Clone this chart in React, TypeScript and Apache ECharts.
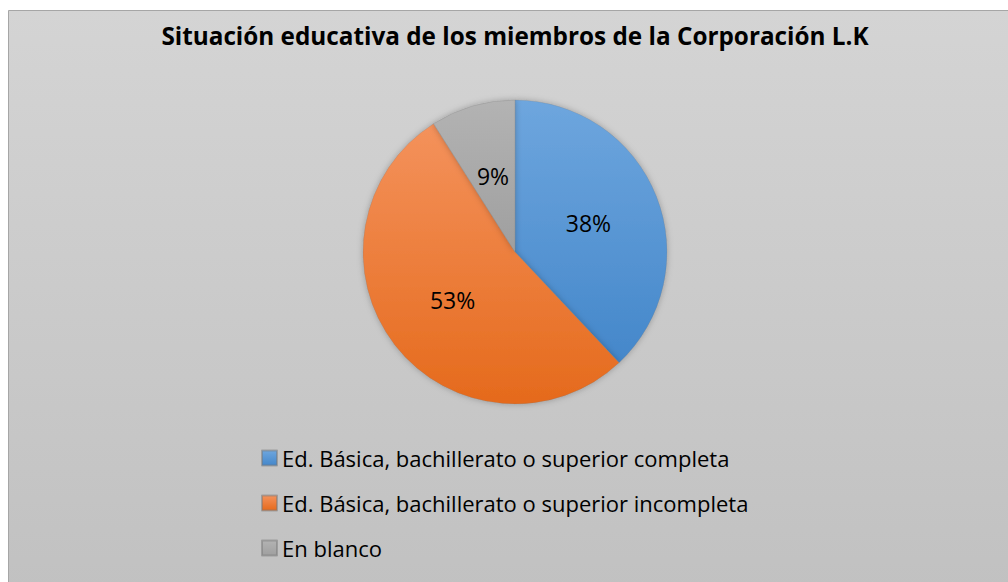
import React, { useEffect, useRef } from "react";
import * as echarts from "echarts";

const titleText = "Situación educativa de los miembros de la Corporación L.K";
const categories = [
  "Ed. Básica, bachillerato o superior completa",
  "Ed. Básica, bachillerato o superior incompleta",
  "En blanco",
];
const values = [38, 53, 9];
const topColors = ["#6ea6de", "#f4925c", "#b3b3b3"];
const bottomColors = ["#4487ca", "#e56a1c", "#9f9f9f"];

const FONT = "'Open Sans', sans-serif";

export default function App() {
  const ref = useRef<HTMLDivElement>(null);
  useEffect(() => {
    const chart = echarts.init(ref.current!, undefined, { renderer: "svg" });
    const grad = (a: string, b: string) =>
      new echarts.graphic.LinearGradient(0, 0, 0, 1, [
        { offset: 0, color: a },
        { offset: 1, color: b },
      ]);
    chart.setOption({
      animation: false,
      backgroundColor: "#ffffff",
      graphic: [
        {
          type: "rect",
          z: -10,
          silent: true,
          shape: { x: 8.5, y: 10.5, width: 1010, height: 580 },
          style: {
            fill: grad("#d4d4d4", "#c1c1c1"),
            stroke: "#a6a6a6",
            lineWidth: 1,
          },
        },
      ],
      title: {
        text: titleText,
        left: 515,
        textAlign: "center",
        top: 22,
        padding: 0,
        textStyle: {
          fontFamily: FONT,
          fontWeight: "bold",
          fontSize: 24.3,
          lineHeight: 26,
          color: "#000000",
        },
      },
      legend: {
        orient: "vertical",
        left: 261,
        top: 447,
        padding: 0,
        itemWidth: 15,
        itemHeight: 15,
        itemGap: 23,
        icon: "rect",
        textStyle: {
          fontFamily: FONT,
          fontSize: 22,
          lineHeight: 22,
          color: "#000000",
        },
        data: categories,
      },
      series: [
        {
          type: "pie",
          center: [515, 252],
          radius: 152,
          startAngle: 90,
          clockwise: true,
          label: {
            show: true,
            position: "inside",
            formatter: "{d}%",
            fontFamily: FONT,
            fontSize: 23,
            color: "#000000",
          },
          labelLine: { show: false },
          itemStyle: {
            shadowBlur: 6,
            shadowColor: "rgba(0,0,0,0.25)",
            borderWidth: 0.5,
            borderColor: "rgba(120,120,120,0.5)",
          },
          emphasis: { disabled: true },
          data: categories.map((name, i) => ({
            name,
            value: values[i],
            itemStyle: { color: grad(topColors[i], bottomColors[i]) },
          })),
        },
      ],
    });
    return () => chart.dispose();
  }, []);
  return (
    <div
      ref={ref}
      style={{ position: "absolute", left: 0, top: 0, width: 1008, height: 582 }}
    />
  );
}
